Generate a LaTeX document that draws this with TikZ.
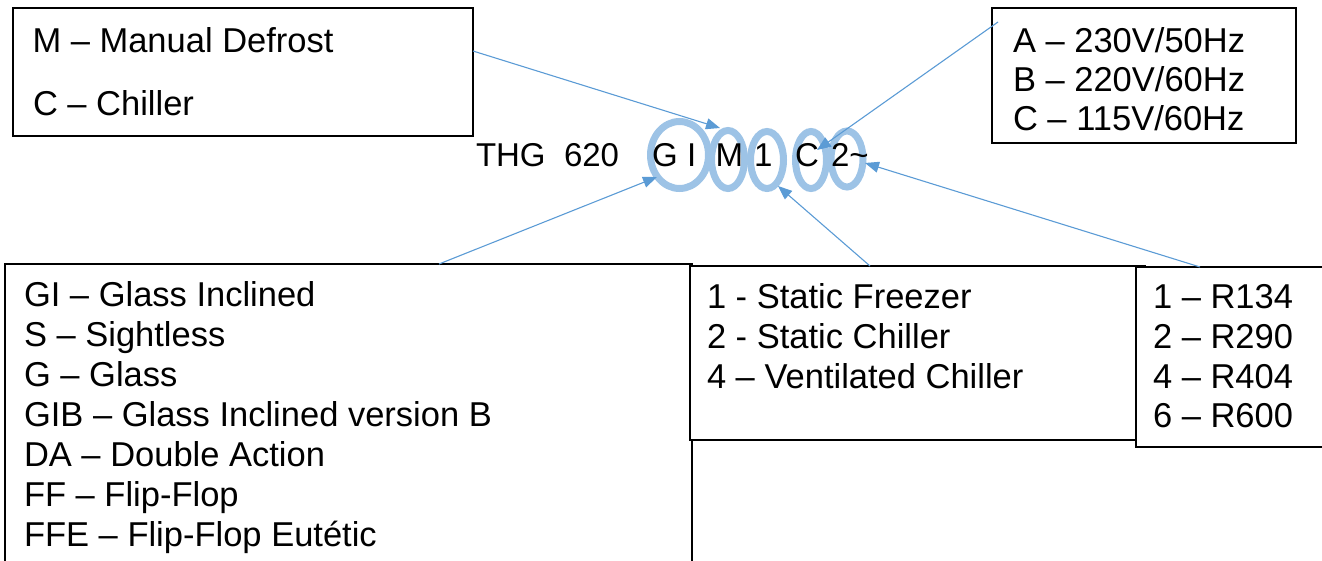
\documentclass[tikz,border=0pt]{standalone}
\usepackage{fontspec}
\setmainfont{Liberation Sans}
\usetikzlibrary{arrows.meta,shapes.geometric}
\definecolor{ringblue}{HTML}{9DC3E6}
\definecolor{arrowblue}{HTML}{5B9BD5}
\begin{document}
\begin{tikzpicture}[x=1pt,y=-1pt,
  box/.style={draw=black,line width=1.4pt,fill=white,inner sep=0pt,outer sep=0pt,anchor=north west},
  txt/.style={inner sep=0pt,outer sep=0pt,anchor=base west,font=\fontsize{34.5}{40}\selectfont},
  code/.style={inner sep=0pt,outer sep=0pt,anchor=base west,font=\fontsize{33}{40}\selectfont},
  ring/.style={ellipse,draw=ringblue,line width=7pt,inner sep=0pt,outer sep=0pt},
  pointer/.style={draw=arrowblue,line width=1.1pt,-{Triangle[length=14pt,width=11pt]}}]
\useasboundingbox (0,0) rectangle (1322,560);
% boxes
\node[box,minimum width=460pt,minimum height=128pt] (boxA) at (13,8) {};
\node[box,minimum width=304pt,minimum height=135pt] (boxB) at (992,8) {};
\node[box,minimum width=687pt,minimum height=320pt] (boxC) at (5,264) {};
\node[box,minimum width=455pt,minimum height=174pt] (boxD) at (690,266) {};
\node[box,minimum width=200pt,minimum height=180pt] (boxE) at (1136,267) {};
% box texts
\node[txt] (a1) at (32.5,52) {M – Manual Defrost};
\node[txt] (a2) at (33,115) {C – Chiller};
\node[txt] (b1) at (1013,52) {A – 230V/50Hz};
\node[txt] (b2) at (1013,91) {B – 220V/60Hz};
\node[txt] (b3) at (1013,130) {C – 115V/60Hz};
\node[txt] (c1) at (24,306) {GI – Glass Inclined};
\node[txt] (c2) at (24,346) {S – Sightless};
\node[txt] (c3) at (24,386) {G – Glass};
\node[txt] (c4) at (24,426) {GIB – Glass Inclined version B};
\node[txt] (c5) at (24,466) {DA – Double Action};
\node[txt] (c6) at (24,506) {FF – Flip-Flop};
\node[txt] (c7) at (24,546) {FFE – Flip-Flop Eutétic};
\node[txt] (d1) at (707,308) {1 - Static Freezer};
\node[txt] (d2) at (707,348) {2 - Static Chiller};
\node[txt] (d3) at (707,388) {4 – Ventilated Chiller};
\node[txt] (e1) at (1153,308) {1 – R134};
\node[txt] (e2) at (1153,348) {2 – R290};
\node[txt] (e3) at (1153,388) {4 – R404};
\node[txt] (e4) at (1153,427) {6 – R600};
% rings
\node[ring,minimum width=58pt,minimum height=67pt] (rGI) at (679.5,155) {};
\node[ring,minimum width=33pt,minimum height=58pt] (rM) at (728,159.5) {};
\node[ring,minimum width=33pt,minimum height=57pt] (rOne) at (767,160) {};
\node[ring,minimum width=31pt,minimum height=57pt] (rC) at (811,160) {};
\node[ring,minimum width=32pt,minimum height=56pt] (rTwo) at (847,159) {};
% model code
\node[code] (tTHG) at (476,166) {THG};
\node[code] (t620) at (564,166) {620};
\node[code] (tG) at (652,166) {G};
\node[code] (tI) at (687,166) {I};
\node[code] (tM) at (715.5,166) {M};
\node[code] (tOne) at (754,166) {1};
\node[code] (tC) at (795,166) {C};
\node[code] (tTwo) at (831,166) {2\char"007E};
% connector ends
\coordinate (sA) at (473,51);
\coordinate (sB) at (998,22);
\coordinate (sC) at (439,264);
\coordinate (sD) at (870,266);
\coordinate (sE) at (1200,267);
\coordinate (hM) at (720,128);
\coordinate (hC) at (817,150);
\coordinate (hGI) at (657,177);
\coordinate (hOne) at (778,186);
\coordinate (hTwo) at (865,163);
% connectors
\draw[pointer] (sA) -- (hM);
\draw[pointer] (sB) -- (hC);
\draw[pointer] (sC) -- (hGI);
\draw[pointer] (sD) -- (hOne);
\draw[pointer] (sE) -- (hTwo);
\end{tikzpicture}
\end{document}
